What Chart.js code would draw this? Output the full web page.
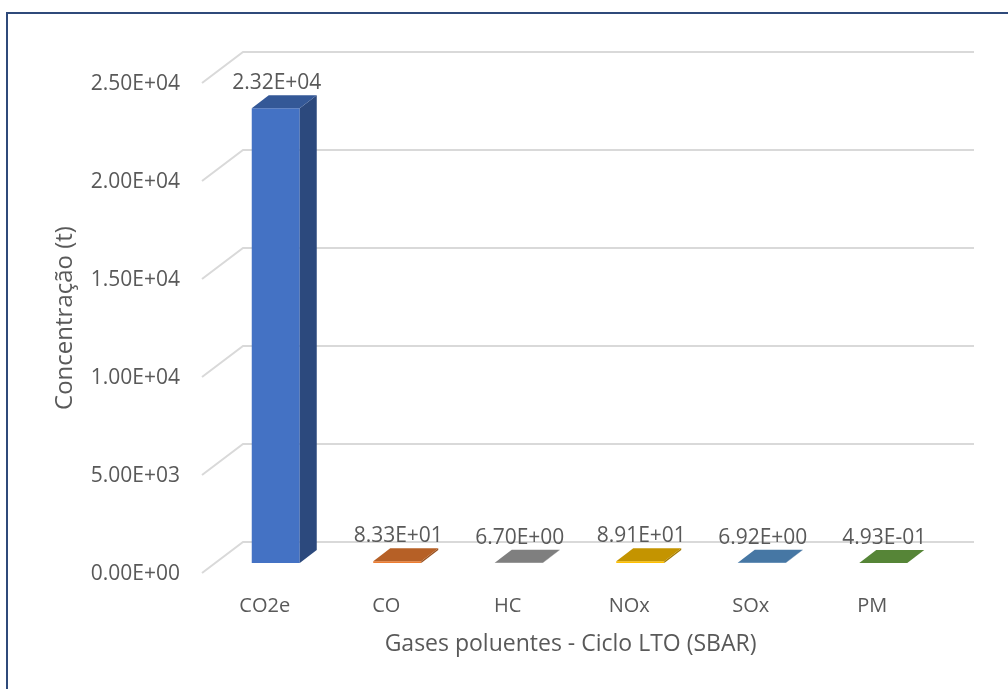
<!DOCTYPE html>
<html>
<head>
<meta charset="utf-8">
<script src="https://cdn.jsdelivr.net/npm/chart.js@4"></script>
<style>
  html, body { margin: 0; padding: 0; background: #fff; overflow: hidden; }
  #frame { position: absolute; left: 6px; top: 12px; width: 1100px; height: 800px;
           border: 2px solid #2F4A7A; box-sizing: border-box; }
  #chart { position: absolute; left: 0; top: 0; }
</style>
</head>
<body>
<div id="frame"></div>
<canvas id="chart" width="1008" height="689"></canvas>
<script>
// dados
const gases = ["CO2e", "CO", "HC", "NOx", "SOx", "PM"];
const concentracao = [23200, 83.3, 6.70, 89.1, 6.92, 0.493];
const barColors = ["#4472C4", "#ED7D31", "#A5A5A5", "#FFC000", "#5B9BD5", "#70AD47"];
const yTicks = [0, 5000, 10000, 15000, 20000, 25000];

const textColor = "#595959";
const font = "'Open Sans', 'DejaVu Sans', sans-serif";

function sci(v) {
  if (v === 0) return "0.00E+00";
  let e = Math.floor(Math.log10(Math.abs(v)));
  let m = v / Math.pow(10, e);
  if (Math.abs(m) >= 9.995) { m = m / 10; e += 1; }
  const sign = e < 0 ? "-" : "+";
  const ee = String(Math.abs(e)).padStart(2, "0");
  return m.toFixed(2) + "E" + sign + ee;
}

function shade(hex, f) {
  const n = parseInt(hex.slice(1), 16);
  const r = Math.round(((n >> 16) & 255) * f);
  const g = Math.round(((n >> 8) & 255) * f);
  const b = Math.round((n & 255) * f);
  return "rgb(" + r + "," + g + "," + b + ")";
}

// piso/parede em perspectiva + faces laterais das barras
const depth3d = {
  id: "depth3d",
  beforeDatasetsDraw(chart) {
    const { ctx, chartArea } = chart;
    const y = chart.scales.y;
    ctx.save();
    ctx.strokeStyle = "#D9D9D9";
    ctx.lineWidth = 2;
    yTicks.forEach(t => {
      const yp = y.getPixelForValue(t);
      ctx.beginPath();
      ctx.moveTo(chartArea.left - 13, yp + 10);
      ctx.lineTo(chartArea.left + 28, yp - 21);
      ctx.lineTo(chartArea.right + 30, yp - 21);
      ctx.stroke();
    });
    ctx.restore();
  },
  afterDatasetsDraw(chart) {
    const { ctx } = chart;
    const meta = chart.getDatasetMeta(0);
    const dx = 17, dy = 13;
    ctx.save();
    meta.data.forEach((bar, i) => {
      const { x, y, base, width } = bar.getProps(["x", "y", "base", "width"], true);
      const l = x - width / 2, r = x + width / 2;
      // lado
      ctx.fillStyle = shade(barColors[i], 0.64);
      ctx.beginPath();
      ctx.moveTo(r, y);
      ctx.lineTo(r + dx, y - dy);
      ctx.lineTo(r + dx, base - dy);
      ctx.lineTo(r, base);
      ctx.closePath();
      ctx.fill();
      // topo
      ctx.fillStyle = shade(barColors[i], 0.77);
      ctx.beginPath();
      ctx.moveTo(l, y);
      ctx.lineTo(l + dx, y - dy);
      ctx.lineTo(r + dx, y - dy);
      ctx.lineTo(r, y);
      ctx.closePath();
      ctx.fill();
      // rótulo
      ctx.fillStyle = textColor;
      ctx.font = "21px " + font;
      ctx.textAlign = "center";
      ctx.textBaseline = "middle";
      ctx.fillText(sci(concentracao[i]), x + 1, y - 25);
    });
    ctx.restore();
  }
};

new Chart(document.getElementById("chart"), {
  type: "bar",
  data: {
    labels: gases,
    datasets: [{
      data: concentracao,
      backgroundColor: barColors,
      borderWidth: 0,
      barPercentage: 0.395,
      categoryPercentage: 1
    }]
  },
  options: {
    responsive: false,
    animation: false,
    devicePixelRatio: 1,
    layout: { padding: { left: 0, top: 73, right: 64, bottom: 0 } },
    plugins: { legend: { display: false }, tooltip: { enabled: false } },
    scales: {
      x: {
        grid: { display: false },
        border: { display: false },
        afterFit(scale) { scale.height = 126; },
        ticks: { color: textColor, font: { family: font, size: 20 }, padding: 23, labelOffset: -11 },
        title: {
          display: true,
          // espaços no fim puxam o título um pouco para a esquerda, como no original
          text: "Gases poluentes - Ciclo LTO (SBAR)\u00a0\u00a0\u00a0",
          color: textColor,
          font: { family: font, size: 23 },
          padding: { top: 0, bottom: 31 }
        }
      },
      y: {
        min: 0,
        max: 25000,
        grid: { display: false },
        border: { display: false },
        afterFit(scale) { scale.width = 215; },
        afterBuildTicks(scale) { scale.ticks = yTicks.map(v => ({ value: v })); },
        ticks: {
          color: textColor,
          font: { family: font, size: 21 },
          padding: 27,
          labelOffset: 11,
          callback: v => sci(v)
        },
        title: {
          display: true,
          text: "Concentração (t)",
          color: textColor,
          font: { family: font, size: 24 },
          padding: { top: 51, bottom: 0 }
        }
      }
    }
  },
  plugins: [depth3d]
});
</script>
</body>
</html>
